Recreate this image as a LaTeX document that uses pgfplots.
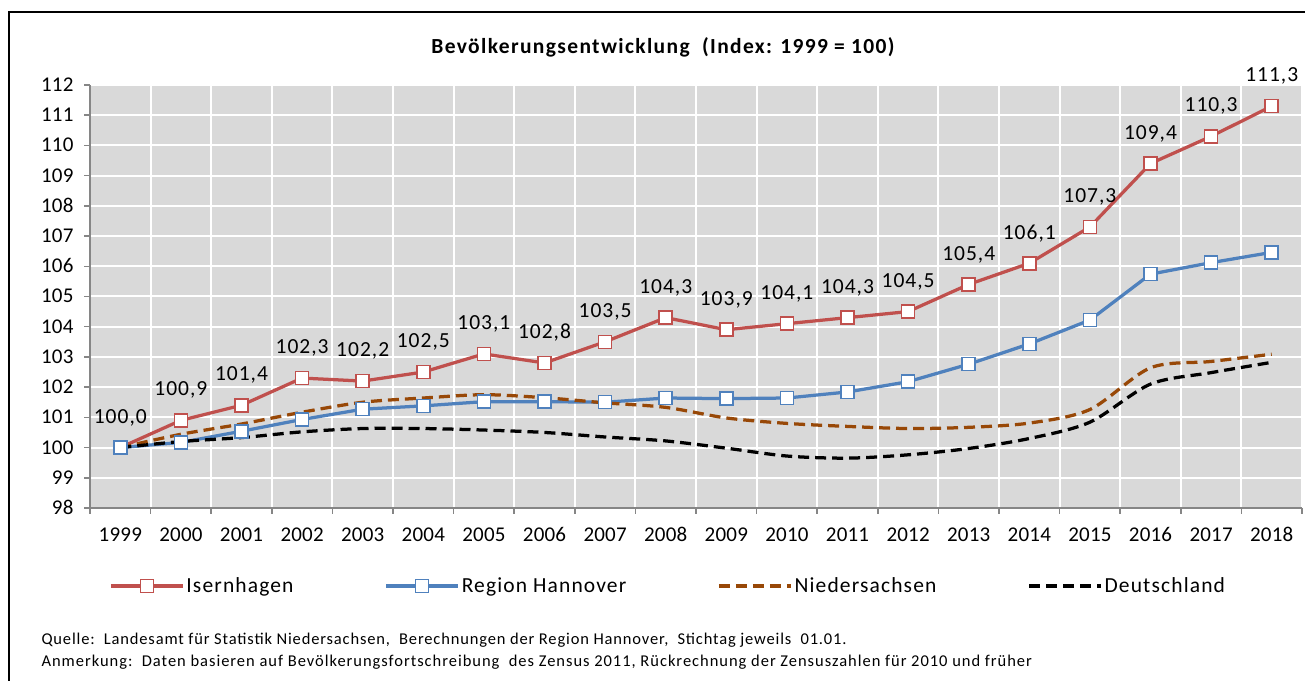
\documentclass[border=0pt]{standalone}
\usepackage{pgfplots}
\pgfplotsset{compat=1.18}
\usepackage{fontspec}
\setmainfont{Carlito}
\newcommand\ls[1]{\addfontfeatures{LetterSpace=#1}}
\definecolor{cRed}{HTML}{C0504D}
\definecolor{cBlue}{HTML}{4F81BD}
\definecolor{cBrown}{HTML}{984807}
\definecolor{cBg}{HTML}{D9D9D9}
\definecolor{cAxis}{HTML}{868686}
\begin{document}
\begin{tikzpicture}[x=1bp,y=1bp]
\useasboundingbox (0,0) rectangle (1305,680);
\draw[line width=2bp] (8.5,-10) -- (8.5,667.5) -- (1320,667.5);
\node[font=\fontsize{21.5bp}{25bp}\selectfont\bfseries\ls{6.3}] at (663,633) {Bevölkerungsentwicklung\ \ (Index: 1999 = 100)};
\node[anchor=base west, font=\fontsize{16.5bp}{19bp}\selectfont\ls{5.1}] at (38,35) {Quelle:\ \ Landesamt für Statistik Niedersachsen,\ \ Berechnungen der Region Hannover,\ \ Stichtag jeweils\ \ 01.01.};
\node[anchor=base west, font=\fontsize{16.5bp}{19bp}\selectfont\ls{5.9}] at (38,14) {Anmerkung:\ \ Daten basieren auf Bevölkerungsfortschreibung\ \ des Zensus 2011, Rückrechnung der Zensuszahlen für 2010 und früher};
\begin{axis}[
  at={(90bp,172bp)}, anchor=south west, scale only axis,
  width=1212bp, height=423bp,
  xmin=-0.5, xmax=19.5, ymin=98, ymax=112,
  clip=false,
  axis background/.style={fill=cBg},
  axis x line*=bottom, axis y line*=left,
  axis line style={draw=cAxis, line width=1.5bp, -},
  xtick={0,...,19},
  xticklabels={1999,2000,2001,2002,2003,2004,2005,2006,2007,2008,2009,2010,2011,2012,2013,2014,2015,2016,2017,2018},
  major x tick style={draw=none},
  minor xtick={-0.5,0.5,...,19.5},
  minor tick length=6bp,
  major tick length=6bp,
  tick align=outside,
  minor x tick style={draw=cAxis, line width=1.5bp},
  ytick={98,99,...,112},
  y tick style={draw=cAxis, line width=1.5bp},
  ymajorgrids=true, xminorgrids=true,
  major grid style={draw=white, line width=2bp},
  minor grid style={draw=white, line width=2bp},
  /pgf/number format/assume math mode=true,
  tick label style={font=\fontsize{21bp}{25bp}\selectfont\ls{1}},
  xticklabel style={anchor=base, yshift=-28bp},
  yticklabel style={anchor=base east, xshift=-7bp, yshift=-6.5bp},
  legend columns=4,
  legend style={at={(0.4770,-0.1844)}, anchor=center, draw=none, fill=none,
     font=\fontsize{21.5bp}{25bp}\selectfont\ls{5.3},
     /tikz/every even column/.append style={column sep=89bp}},
  legend image code/.code={\draw[mark repeat=2,mark phase=2,#1] plot coordinates {(0bp,0bp) (36bp,0bp) (72bp,0bp)};},
]
\addplot[cRed, line width=3.25bp, mark=square*, mark size=6.5bp,
  mark options={fill=white, draw=cRed, line width=1.5bp, solid},
  nodes near coords={\pgfmathprintnumber[fixed,fixed zerofill,precision=1,use comma,assume math mode=true]{\pgfplotspointmeta}},
  every node near coord/.append style={anchor=center, yshift=30bp, text=black, font=\fontsize{21.5bp}{25bp}\selectfont\ls{4.6}}]
coordinates {(0,100.0) (1,100.9) (2,101.4) (3,102.3) (4,102.2) (5,102.5) (6,103.1) (7,102.8) (8,103.5) (9,104.3) (10,103.9) (11,104.1) (12,104.3) (13,104.5) (14,105.4) (15,106.1) (16,107.3) (17,109.4) (18,110.3) (19,111.3)};
\addlegendentry{Isernhagen}
\addplot[cBlue, line width=3.25bp, mark=square*, mark size=6.5bp,
  mark options={fill=white, draw=cBlue, line width=1.5bp, solid}]
coordinates {(0,100.0) (1,100.17) (2,100.54) (3,100.93) (4,101.27) (5,101.38) (6,101.52) (7,101.52) (8,101.5) (9,101.64) (10,101.62) (11,101.64) (12,101.84) (13,102.18) (14,102.76) (15,103.43) (16,104.22) (17,105.74) (18,106.12) (19,106.46)};
\addlegendentry{Region Hannover}
\addplot[cBrown, line width=3.25bp, smooth, dash pattern=on 11bp off 6bp]
coordinates {(0,100.0) (1,100.44) (2,100.78) (3,101.17) (4,101.5) (5,101.64) (6,101.75) (7,101.65) (8,101.48) (9,101.33) (10,100.98) (11,100.8) (12,100.7) (13,100.63) (14,100.67) (15,100.81) (16,101.26) (17,102.64) (18,102.85) (19,103.09)};
\addlegendentry{Niedersachsen}
\addplot[black, line width=3.25bp, smooth, dash pattern=on 11bp off 6bp]
coordinates {(0,100.0) (1,100.2) (2,100.33) (3,100.52) (4,100.63) (5,100.63) (6,100.58) (7,100.5) (8,100.35) (9,100.22) (10,99.98) (11,99.72) (12,99.65) (13,99.76) (14,99.97) (15,100.3) (16,100.84) (17,102.1) (18,102.48) (19,102.82)};
\addlegendentry{Deutschland}
\end{axis}
\end{tikzpicture}
\end{document}
